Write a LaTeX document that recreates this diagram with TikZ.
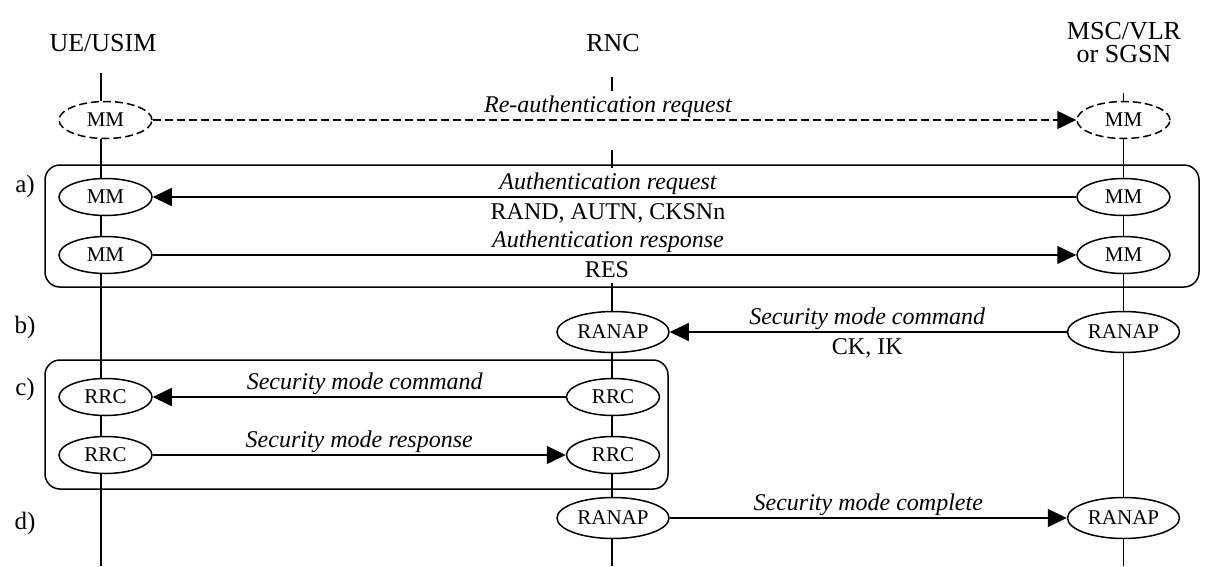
\documentclass[tikz,border=0pt]{standalone}
\usepackage{fontspec}
\setmainfont{Liberation Serif}
\usetikzlibrary{arrows.meta,shapes.geometric}

\tikzset{
  entity/.style={font=\fontsize{26}{23}\selectfont, align=center, inner sep=0pt, anchor=base},
  proto/.style={draw, ellipse, fill=white, inner sep=0pt, font=\fontsize{21}{24}\selectfont},
  mm/.style={proto, minimum width=93pt, minimum height=37pt},
  big/.style={proto, minimum width=112pt, minimum height=41pt},
  ghost/.style={dash pattern=on 8pt off 4pt},
  msg/.style={-{Triangle[length=19pt,width=18pt]}},
  lbl/.style={inner sep=0pt, anchor=base},
  toplbl/.style={lbl, yshift=7.5pt, font=\fontsize{24}{28}\selectfont\itshape},
  sublbl/.style={lbl, yshift=-22pt, font=\fontsize{24}{28}\selectfont},
  phase/.style={lbl, font=\fontsize{25}{28}\selectfont},
  group/.style={rounded corners=15pt}
}

\begin{document}
\begin{tikzpicture}[x=1pt, y=-1pt, line width=1.5pt]
\useasboundingbox (0,0) rectangle (1210,566);

% entity names
\node[entity] (hUE)  at (103,51) {UE/USIM};
\node[entity] (hRNC) at (613,51) {RNC};
\node[entity, anchor=center] (hMSC) at (1124,43) {MSC/VLR\\or SGSN};

% phase letters
\node[phase] (pa) at (25,192) {a)};
\node[phase] (pb) at (25,333) {b)};
\node[phase] (pc) at (25,395) {c)};
\node[phase] (pd) at (25,529) {d)};

% grouping frames
\draw[group] (45,165) rectangle (1199,287);
\draw[group] (45,360) rectangle (668,489);

% lifeline anchors
\coordinate (ueX)  at (101,0);
\coordinate (rncX) at (612,0);
\coordinate (mscX) at (1123.5,0);
\coordinate (ueTop)  at (101,73);
\coordinate (ueBot)  at (101,566);
\coordinate (rncT1)  at (612,77);
\coordinate (rncT2)  at (612,91);
\coordinate (rncM1)  at (612,150);
\coordinate (rncM2)  at (612,168);
\coordinate (rncLow) at (612,283);
\coordinate (rncBot) at (612,566);
\coordinate (mscTop) at (1123.5,93);
\coordinate (mscBot) at (1123.5,566);

% protocol entities
\node[mm, ghost] (ueMM0)  at (105.5,120) {MM};
\node[mm, ghost] (mscMM0) at (1123.5,120) {MM};
\node[mm] (ueMM1)  at (105.5,197) {MM};
\node[mm] (mscMM1) at (1123.5,197) {MM};
\node[mm] (ueMM2)  at (105.5,255) {MM};
\node[mm] (mscMM2) at (1123.5,255) {MM};
\node[big] (rncRANAP1) at (613,332) {RANAP};
\node[big] (mscRANAP1) at (1123.5,332) {RANAP};
\node[mm] (ueRRC1)  at (105.5,397) {RRC};
\node[mm] (rncRRC1) at (613,397) {RRC};
\node[mm] (ueRRC2)  at (105.5,455) {RRC};
\node[mm] (rncRRC2) at (613,455) {RRC};
\node[big] (rncRANAP2) at (613,518) {RANAP};
\node[big] (mscRANAP2) at (1123.5,518) {RANAP};

% UE/USIM lifeline
\draw (ueTop) -- (ueMM0.north -| ueX);
\draw (ueMM0.south -| ueX) -- (ueMM1.north -| ueX);
\draw (ueMM1.south -| ueX) -- (ueMM2.north -| ueX);
\draw (ueMM2.south -| ueX) -- (ueRRC1.north -| ueX);
\draw (ueRRC1.south -| ueX) -- (ueRRC2.north -| ueX);
\draw (ueRRC2.south -| ueX) -- (ueBot);

% RNC lifeline
\draw (rncT1) -- (rncT2);
\draw (rncM1) -- (rncM2);
\draw (rncLow) -- (rncRANAP1.north -| rncX);
\draw (rncRANAP1.south -| rncX) -- (rncRRC1.north -| rncX);
\draw (rncRRC1.south -| rncX) -- (rncRRC2.north -| rncX);
\draw (rncRRC2.south -| rncX) -- (rncRANAP2.north -| rncX);
\draw (rncRANAP2.south -| rncX) -- (rncBot);

% MSC/VLR or SGSN lifeline
\draw (mscTop) -- (mscMM0.north -| mscX);
\draw (mscMM0.south -| mscX) -- (mscMM1.north -| mscX);
\draw (mscMM1.south -| mscX) -- (mscMM2.north -| mscX);
\draw (mscMM2.south -| mscX) -- (mscRANAP1.north -| mscX);
\draw (mscRANAP1.south -| mscX) -- (mscRANAP2.north -| mscX);
\draw (mscRANAP2.south -| mscX) -- (mscBot);

% messages
\draw[msg, ghost] (ueMM0) -- node[toplbl, xshift=-6.5pt] {Re-authentication request} (mscMM0);
\draw[msg] (mscMM1) -- node[toplbl, xshift=-6.5pt] {Authentication request}
                      node[sublbl, xshift=-6.5pt] {RAND, AUTN, CKSNn} (ueMM1);
\draw[msg] (ueMM2) -- node[toplbl, xshift=-6.5pt] {Authentication response}
                     node[sublbl, xshift=-7.5pt] {RES} (mscMM2);
\draw[msg] (mscRANAP1) -- node[toplbl, xshift=-1pt] {Security mode command}
                          node[sublbl, xshift=-1pt] {CK, IK} (rncRANAP1);
\draw[msg] (rncRRC1) -- node[toplbl, xshift=5.5pt] {Security mode command} (ueRRC1);
\draw[msg] (ueRRC2) -- node[toplbl] {Security mode response} (rncRRC2);
\draw[msg] (rncRANAP2) -- node[toplbl] {Security mode complete} (mscRANAP2);
\end{tikzpicture}
\end{document}
